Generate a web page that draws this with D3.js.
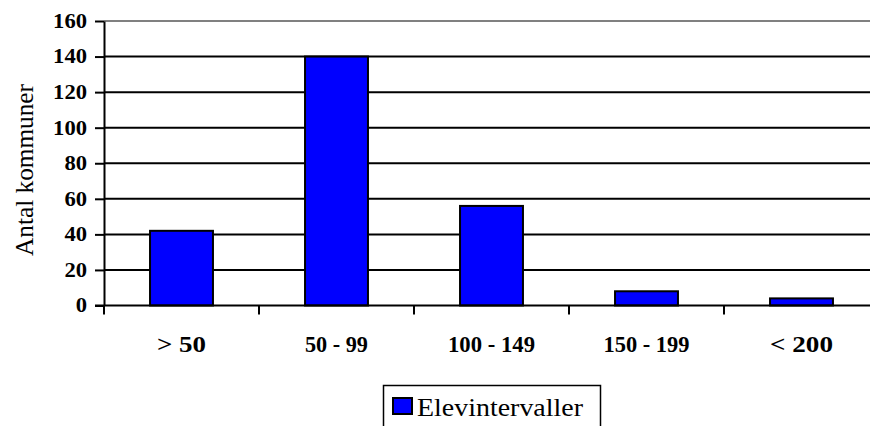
<!DOCTYPE html>
<html>
<head>
<meta charset="utf-8">
<script src="https://cdn.jsdelivr.net/npm/d3@7"></script>
<style>
  html, body { margin: 0; padding: 0; background: #fff; }
  svg { display: block; }
  text { font-family: "Liberation Serif", "Times New Roman", serif; fill: #000; }
</style>
</head>
<body>
<svg id="chart" width="870" height="426"></svg>
<script>
const categories = ["> 50", "50 - 99", "100 - 149", "150 - 199", "< 200"];
const values = [42, 140, 56, 8, 4];
const yTicks = [0, 20, 40, 60, 80, 100, 120, 140, 160];
const seriesName = "Elevintervaller";
const yTitle = "Antal kommuner";

const svg = d3.select("#chart");
const plotLeft = 104, plotRight = 879, plotTop = 21, plotBottom = 305.5;

const x = d3.scaleBand().domain(categories).range([plotLeft, plotRight])
  .paddingInner(0.594).paddingOuter(0.297);
const y = d3.scaleLinear().domain([0, 160]).range([plotBottom, plotTop]);

// gridlines
svg.append("g").selectAll("line").data(yTicks.filter(d => d > 0)).join("line")
  .attr("x1", plotLeft).attr("x2", plotRight)
  .attr("y1", d => y(d)).attr("y2", d => y(d))
  .attr("stroke", d => d === 160 ? "#808080" : "#000").attr("stroke-width", 2);

// bars
svg.append("g").selectAll("rect").data(values).join("rect")
  .attr("x", (d, i) => x(categories[i]))
  .attr("width", x.bandwidth())
  .attr("y", d => y(d))
  .attr("height", d => y(0) - y(d))
  .attr("fill", "#0000ff")
  .attr("stroke", "#000").attr("stroke-width", 2);

// y axis
const yAxis = d3.axisLeft(y).tickValues(yTicks).tickSize(9).tickPadding(8).tickSizeOuter(0);
const gy = svg.append("g").attr("transform", `translate(${plotLeft},0)`).call(yAxis);
gy.select(".domain").attr("stroke", "#000").attr("stroke-width", 2);
gy.selectAll(".tick line").attr("stroke", "#000").attr("stroke-width", 2);
gy.selectAll(".tick text")
  .attr("font-family", "Liberation Serif").attr("font-size", 20).attr("font-weight", "bold")
  .attr("fill", "#000")
  .each(function(d) {
    const n = String(d).length;
    d3.select(this).attr("textLength", n * 11.3).attr("lengthAdjust", "spacingAndGlyphs");
  });

// x axis
const boundaries = categories.map(c => x(c) - x.step() * x.paddingInner() / 2);
boundaries[0] = plotLeft;
const gx = svg.append("g");
gx.append("line").attr("x1", plotLeft - 9).attr("x2", plotRight).attr("y1", y(0)).attr("y2", y(0))
  .attr("stroke", "#000").attr("stroke-width", 2);
gx.selectAll("line.tk").data(boundaries).join("line").attr("class", "tk")
  .attr("x1", d => d).attr("x2", d => d).attr("y1", y(0)).attr("y2", y(0) + 9)
  .attr("stroke", "#000").attr("stroke-width", 2);
const labelWidths = [49, 63, 87, 86, 63];
gx.selectAll("text").data(categories).join("text")
  .attr("x", d => x(d) + x.bandwidth() / 2)
  .attr("y", 352)
  .attr("text-anchor", "middle")
  .attr("font-size", 23).attr("font-weight", "bold")
  .attr("textLength", (d, i) => labelWidths[i]).attr("lengthAdjust", "spacingAndGlyphs")
  .text(d => d);

// y title
svg.append("text")
  .attr("transform", `translate(33,${(85 + 255) / 2}) rotate(-90)`)
  .attr("text-anchor", "middle")
  .attr("font-size", 25)
  .attr("textLength", 172).attr("lengthAdjust", "spacingAndGlyphs")
  .text(yTitle);

// legend
const lg = svg.append("g");
lg.append("rect").attr("x", 383.5).attr("y", 385.5).attr("width", 217).attr("height", 60)
  .attr("fill", "#fff").attr("stroke", "#000").attr("stroke-width", 1.5);
lg.append("rect").attr("x", 393).attr("y", 398).attr("width", 19).attr("height", 16)
  .attr("fill", "#0000ff").attr("stroke", "#000").attr("stroke-width", 2);
lg.append("text").attr("x", 417).attr("y", 416)
  .attr("font-size", 26)
  .attr("textLength", 166).attr("lengthAdjust", "spacingAndGlyphs")
  .text(seriesName);
</script>
</body>
</html>
